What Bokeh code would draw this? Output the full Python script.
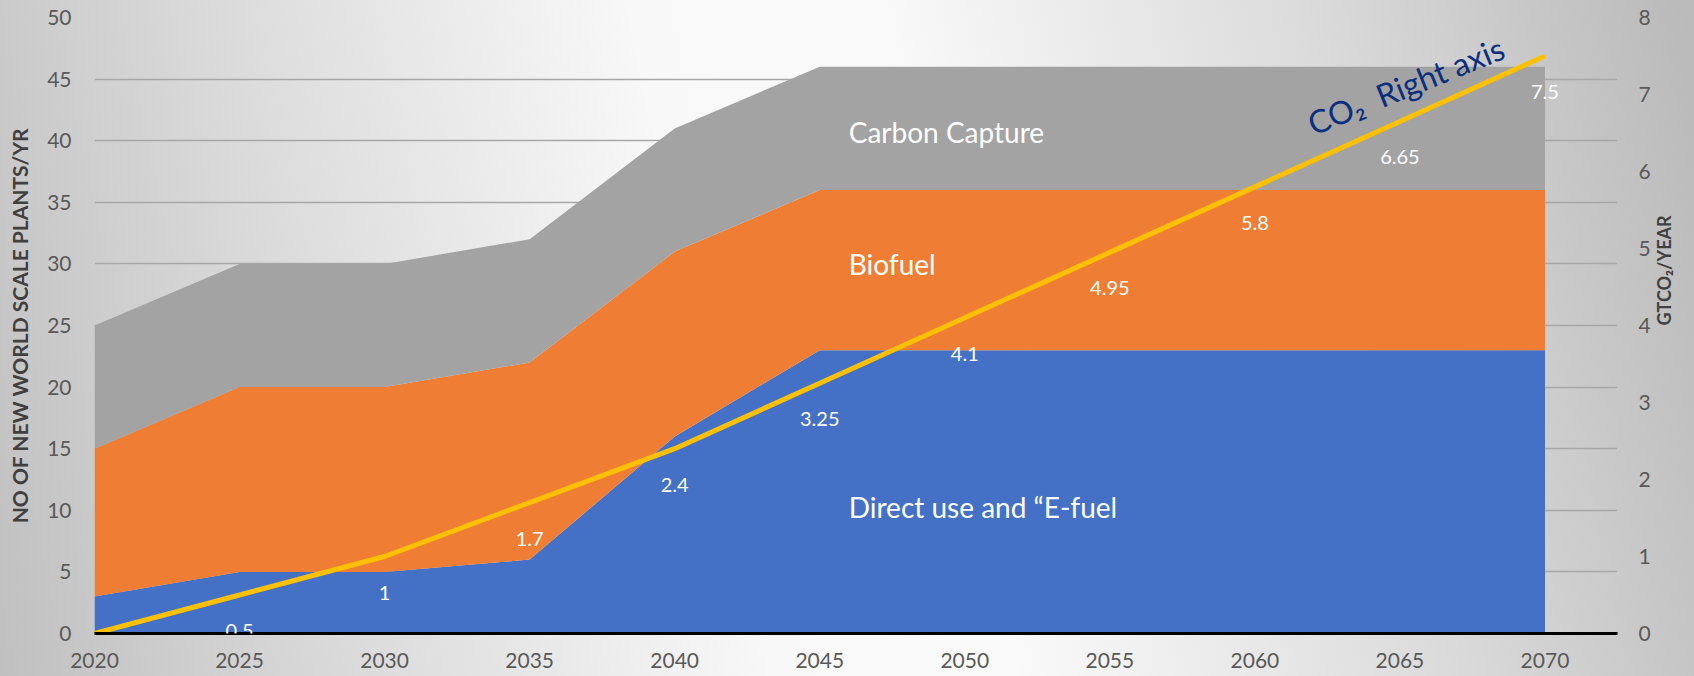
from bokeh.plotting import figure
from bokeh.models import (Range1d, LinearAxis, SingleIntervalTicker, ColumnDataSource,
                          LabelSet, Label)
from bokeh.core.properties import value
from bokeh.embed import file_html
from bokeh.resources import INLINE
import math

# ---- data ----
years = [2020, 2025, 2030, 2035, 2040, 2045, 2050, 2055, 2060, 2065, 2070]
direct_use = [3, 5, 5, 6, 16, 23, 23, 23, 23, 23, 23]
biofuel = [12, 15, 15, 16, 15, 13, 13, 13, 13, 13, 13]
carbon_capture = [10, 10, 10, 10, 10, 10, 10, 10, 10, 10, 10]
co2 = [0, 0.5, 1, 1.7, 2.4, 3.25, 4.1, 4.95, 5.8, 6.65, 7.5]
co2_labels = ["" if v == 0 else f"{v:g}" for v in co2]

series_names = ["Direct use and \u201cE-fuel", "Biofuel", "Carbon Capture"]
left_title = "NO OF NEW WORLD SCALE PLANTS/YR"
right_title = "GTCO\u2082/YEAR"
line_note = "CO\u2082\u00a0\u00a0Right axis"

# ---- styles ----
FONT = "Lato"
BLUE = "#4471c6"
ORANGE = "#ef7e34"
GREY = "#a3a3a3"
TICK_COLOR = "#595959"
TITLE_COLOR = "#404040"

src = ColumnDataSource(dict(year=years, direct=direct_use, bio=biofuel, cap=carbon_capture,
                            co2=co2, lab=co2_labels))

p = figure(width=1694, height=676, output_backend="svg", toolbar_location=None,
           x_range=Range1d(2020, 2072.5), y_range=Range1d(0, 50),
           min_border_left=94, min_border_right=77, min_border_top=17, min_border_bottom=43)
p.extra_y_ranges = {"co2": Range1d(0, 8)}

p.background_fill_alpha = 0
p.border_fill_alpha = 0
p.outline_line_color = None
p.styles = {"background": "linear-gradient(78deg, #c0c0c0 0%, #dedede 22%, #f8f8f8 42%, #fafafa 55%, #dcdcdc 78%, #b9b9b9 100%)"}

# stacked areas
p.varea_stack(["direct", "bio", "cap"], x="year", color=[BLUE, ORANGE, GREY], source=src)

# CO2 line on right axis
p.line("year", "co2", source=src, y_range_name="co2", line_color="#FFC000", line_width=5)

labels = LabelSet(x="year", y="co2", text="lab", source=src, y_range_name="co2",
                  y_offset=-36, text_align="center", text_baseline="middle",
                  text_color="white", text_font=value(FONT), text_font_size="20px")
p.add_layout(labels)

# series names
for name, (xx, yy) in zip(series_names, [(2046, 10.3), (2046, 30.0), (2046, 40.7)]):
    p.add_layout(Label(x=xx, y=yy, text=name, text_align="left", text_baseline="middle",
                       text_color="white", text_font=FONT, text_font_size="28px"))

p.add_layout(Label(x=2065.2, y=44.5, text=line_note, angle=22, angle_units="deg",
                   text_align="center", text_baseline="middle", text_color="#0b2f7e",
                   text_font=FONT, text_font_size="32px"))

# grid
p.xgrid.grid_line_color = None
p.ygrid.grid_line_color = "#a9a6a6"
p.ygrid.grid_line_width = 1.5


def plain(ax):
    ax.major_tick_line_color = None
    ax.minor_tick_line_color = None
    ax.major_tick_out = 0
    ax.major_tick_in = 0
    ax.minor_tick_out = 0
    ax.minor_tick_in = 0
    ax.major_label_text_font = FONT
    ax.major_label_text_font_size = "21px"
    ax.major_label_text_color = TICK_COLOR


# axes
xa = p.xaxis[0]
xa.ticker = SingleIntervalTicker(interval=5)
plain(xa)
xa.axis_line_color = "black"
xa.axis_line_width = 3
xa.major_label_standoff = 19

ya = p.yaxis[0]
ya.ticker = SingleIntervalTicker(interval=5)
plain(ya)
ya.axis_line_color = None
ya.major_label_standoff = 23
ya.axis_label = left_title
ya.axis_label_text_font = FONT
ya.axis_label_text_font_style = "bold"
ya.axis_label_text_font_size = "21px"
ya.axis_label_text_color = TITLE_COLOR
ya.axis_label_standoff = 12

ra = LinearAxis(y_range_name="co2", ticker=SingleIntervalTicker(interval=1))
plain(ra)
ra.axis_line_color = None
ra.major_label_standoff = 21
ra.axis_label = right_title
ra.axis_label_text_font = FONT
ra.axis_label_text_font_style = "bold"
ra.axis_label_text_font_size = "18px"
ra.axis_label_text_color = TITLE_COLOR
ra.axis_label_standoff = 10
ra.axis_label_orientation = math.pi / 2
p.add_layout(ra, "right")

open("out.html", "w").write(file_html(p, INLINE))
